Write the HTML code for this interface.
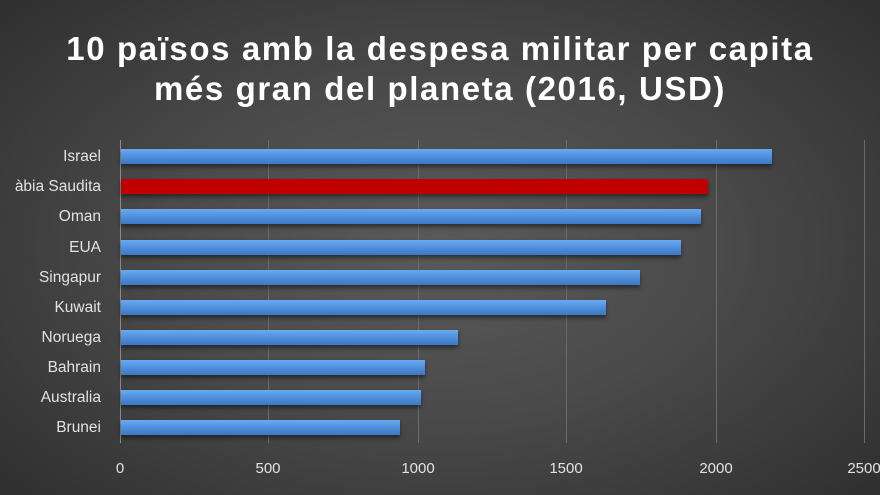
<!DOCTYPE html>
<html><head><meta charset="utf-8"><style>
html,body{margin:0;padding:0}
body{width:880px;height:495px;overflow:hidden;position:relative;font-family:"Liberation Sans",sans-serif;
background:radial-gradient(ellipse 70% 75% at 50% 50%,#5a5a5a 0%,#4a4a4a 45%,#2e2e2e 100%);}
.t{position:absolute;left:0;width:880px;text-align:center;color:#fff;font-weight:bold;font-size:33px;letter-spacing:1.6px;white-space:nowrap}
.l{position:absolute;right:779px;color:#e2e2e2;font-size:15.5px;text-align:right;white-space:nowrap;line-height:16px}
.b{position:absolute;left:121px;height:15px;background:linear-gradient(#6aaaf0,#4a8ad8 60%,#3d78c4);box-shadow:0 3px 4px rgba(0,0,0,.45)}
.g{position:absolute;top:140px;height:303px;width:1px;background:#6a6a6a}
.x{position:absolute;top:460px;color:#e2e2e2;font-size:15px;width:60px;text-align:center}
</style></head><body>
<div class="t" style="top:30px">10 països amb la despesa militar per capita</div>
<div class="t" style="top:70px">més gran del planeta (2016, USD)</div>
<div class="g" style="left:268px"></div><div class="g" style="left:418px"></div><div class="g" style="left:566px"></div><div class="g" style="left:716px"></div><div class="g" style="left:864px"></div>
<div class="g" style="left:120px;background:#8a8a8a"></div>
<div class="b" style="top:149px;width:651px"></div>
<div class="b" style="top:179px;width:587px;background:#c00000"></div>
<div class="b" style="top:209px;width:580px"></div>
<div class="b" style="top:240px;width:560px"></div>
<div class="b" style="top:270px;width:519px"></div>
<div class="b" style="top:300px;width:485px"></div>
<div class="b" style="top:330px;width:337px"></div>
<div class="b" style="top:360px;width:304px"></div>
<div class="b" style="top:390px;width:300px"></div>
<div class="b" style="top:420px;width:279px"></div>
<div class="l" style="top:149px">Israel</div>
<div class="l" style="top:179px">àbia Saudita</div>
<div class="l" style="top:209px">Oman</div>
<div class="l" style="top:240px">EUA</div>
<div class="l" style="top:270px">Singapur</div>
<div class="l" style="top:300px">Kuwait</div>
<div class="l" style="top:330px">Noruega</div>
<div class="l" style="top:360px">Bahrain</div>
<div class="l" style="top:390px">Australia</div>
<div class="l" style="top:420px">Brunei</div>
<div class="x" style="left:90px">0</div>
<div class="x" style="left:238px">500</div>
<div class="x" style="left:388px">1000</div>
<div class="x" style="left:536px">1500</div>
<div class="x" style="left:686px">2000</div>
<div class="x" style="left:834px">2500</div>
</body></html>
